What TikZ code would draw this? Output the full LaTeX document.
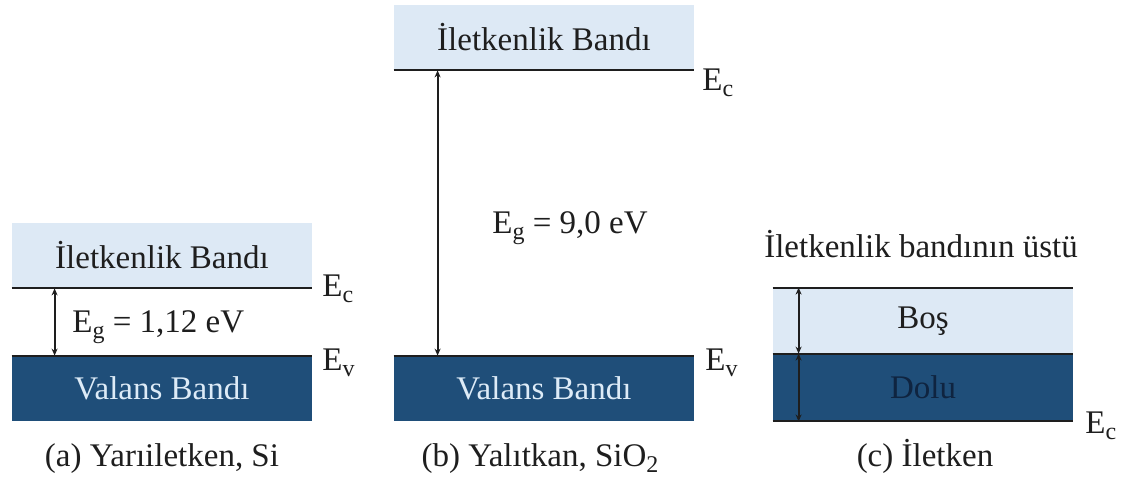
\documentclass[tikz,border=0pt]{standalone}
\usepackage{fontspec}
\setmainfont{Liberation Serif}
\usetikzlibrary{arrows.meta,positioning,calc}
\definecolor{bdlight}{HTML}{DDE9F5}
\definecolor{bddark}{HTML}{1F4E79}
\definecolor{bdink}{HTML}{1E1E1E}
\definecolor{bdpale}{HTML}{DDEBF7}
\definecolor{bddeep}{HTML}{0F2440}
\newcommand{\lowsub}[1]{\raisebox{-0.45ex}{\fontsize{12}{12}\selectfont #1}}

\begin{document}
\begin{tikzpicture}[x=0.5pt,y=-0.5pt,
  every node/.style={font=\fontsize{16.5}{19}\selectfont,text=bdink,inner sep=0pt},
  cband/.style={fill=bdlight,minimum width=150pt,minimum height=32.5pt},
  vband/.style={fill=bddark,minimum width=150pt,minimum height=32.5pt,text=bdpale},
  level/.style={draw=bdink,line width=1pt},
  gap/.style={{Stealth[length=3.5pt,width=3pt]}-{Stealth[length=3.5pt,width=3pt]},draw=bdink,line width=1pt},
  elab/.style={anchor=base west},
  captxt/.style={anchor=base}
]
\useasboundingbox (0,0) rectangle (1125,484);
% (a) semiconductor
\node[cband] (cbA) at (162,255.5) {İletkenlik Bandı};
\node[vband] (vbA) at (162,388.5) {Valans Bandı};
\draw[level] (cbA.south west) -- (cbA.south east);
\draw[level] (vbA.north west) -- (vbA.north east);
\coordinate (gA1) at ($(cbA.south west)+(43,0)$);
\coordinate (gA2) at ($(vbA.north west)+(43,0)$);
\draw[gap] (gA1) -- (gA2);
\node[elab] (egA) at (72,332) {E\lowsub{g} = 1,12 eV};
\node[elab] (ecA) at (322,296) {E\lowsub{c}};
\node[elab] (evA) at (322,370) {E\lowsub{v}};
\node[captxt] (capA) at (162,466) {(a) Yarıiletken, Si};
% (b) insulator
\node[cband] (cbB) at (544,37.5) {İletkenlik Bandı};
\node[vband] (vbB) at (544,388.5) {Valans Bandı};
\draw[level] (cbB.south west) -- (cbB.south east);
\draw[level] (vbB.north west) -- (vbB.north east);
\coordinate (gB1) at ($(cbB.south west)+(44,0)$);
\coordinate (gB2) at ($(vbB.north west)+(44,0)$);
\draw[gap] (gB1) -- (gB2);
\node[elab] (egB) at (492,233) {E\lowsub{g} = 9,0 eV};
\node[elab] (ecB) at (702,90) {E\lowsub{c}};
\node[elab] (evB) at (705,370) {E\lowsub{v}};
\node[captxt] (capB) at (540,466) {(b) Yalıtkan, SiO\lowsub{2}};
% (c) conductor
\node[captxt] (topC) at (921,257) {İletkenlik bandının üstü};
\node[cband,minimum height=33pt] (cbC) at (923,321) {Boş};
\node[vband,minimum height=33.5pt,text=bddeep] (vbC) at (923,387.5) {Dolu};
\draw[level] (cbC.north west) -- (cbC.north east);
\draw[level] (vbC.north west) -- (vbC.north east);
\draw[level] (vbC.south west) -- (vbC.south east);
\coordinate (gC1) at ($(cbC.north west)+(26,0)$);
\coordinate (gC2) at ($(vbC.north west)+(26,0)$);
\coordinate (gC3) at ($(vbC.south west)+(26,0)$);
\draw[gap] (gC1) -- (gC2);
\draw[gap] (gC2) -- (gC3);
\node[elab] (ecC) at (1085,433) {E\lowsub{c}};
\node[captxt] (capC) at (925,466) {(c) İletken};
\end{tikzpicture}
\end{document}
